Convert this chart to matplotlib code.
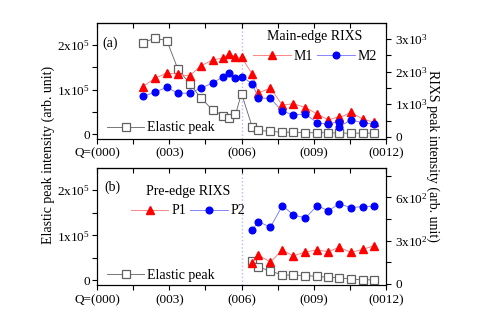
import numpy as np
import matplotlib
matplotlib.use("Agg")
import matplotlib.pyplot as plt
from matplotlib.ticker import FixedLocator, FuncFormatter
from matplotlib.lines import Line2D
from matplotlib.transforms import ScaledTranslation

plt.rcParams["font.family"] = ["Liberation Serif", "DejaVu Serif"]
plt.rcParams["mathtext.fontset"] = "custom"
plt.rcParams["mathtext.rm"] = "Liberation Serif"
plt.rcParams["mathtext.it"] = "Liberation Serif:italic"
plt.rcParams["font.size"] = 9.5

# Q positions (index along (00L)); duplicate point at ~(0010)
x_top = [1.9, 2.4, 2.9, 3.35, 3.85, 4.3, 4.8, 5.25, 5.5, 5.75, 6.0, 6.45,
         6.7, 7.2, 7.7, 8.15, 8.65, 9.15, 9.6, 10.05, 10.05, 10.55, 11.05, 11.5]
elastic_top = [2.05, 2.15, 2.10, 1.47, 1.13, 0.82, 0.54, 0.41, 0.35, 0.44, 0.91, 0.15,
               0.08, 0.06, 0.04, 0.04, 0.03, 0.03, 0.03, 0.02, 0.02, 0.02, 0.02, 0.02]  # x1e5
m1 = [1.54, 1.79, 1.96, 1.92, 1.87, 2.17, 2.36, 2.42, 2.55, 2.44, 2.44, 1.92,
      1.35, 1.49, 0.97, 1.02, 0.90, 0.70, 0.52, 0.62, 0.58, 0.75, 0.54, 0.45]  # x1e3
m2 = [1.24, 1.37, 1.52, 1.34, 1.34, 1.49, 1.65, 1.85, 1.97, 1.79, 1.85, 1.63,
      1.19, 1.18, 0.78, 0.68, 0.70, 0.43, 0.39, 0.47, 0.31, 0.52, 0.43, 0.39]  # x1e3

x_bot = [6.45, 6.7, 7.2, 7.7, 8.15, 8.65, 9.15, 9.6, 10.05, 10.55, 11.05, 11.5]
elastic_bot = [0.44, 0.30, 0.21, 0.12, 0.12, 0.11, 0.09, 0.07, 0.06, 0.03, 0.02, 0.01]  # x1e5
p1 = [143, 201, 152, 235, 194, 222, 235, 224, 254, 219, 240, 265]
p2 = [374, 432, 393, 543, 478, 457, 543, 506, 554, 529, 536, 538]

q_ticks = [0, 3, 6, 9, 12]
q_labels = ["Q=(000)", "(003)", "(006)", "(009)", "(0012)"]

RED, RED_L = "#ff0000", "#ff7070"
BLUE, BLUE_L = "#0000ff", "#7070ff"
GRAY = "#606060"
VLINE = "#b8b8f0"


def sci(exp):
    def f(v, pos):
        m = v / 10 ** exp
        if abs(m) < 1e-9:
            return "0"
        return "%dx10$^{%d}$" % (round(m), exp)
    return FuncFormatter(f)


W, H = 482, 336
fig = plt.figure(figsize=(W / 100, H / 100), dpi=100)
L, R = 97, 386
ax_a = fig.add_axes([L / W, 1 - 138.5 / H, (R - L) / W, 115.8 / H])
ax_b = fig.add_axes([L / W, 1 - 285 / H, (R - L) / W, 117.3 / H])

el_kw = dict(color=GRAY, lw=0.6, marker="s", ms=5.5, mfc="white", mec=GRAY, mew=0.9)
m1_kw = dict(color=RED_L, lw=0.6, marker="^", ms=5.2, mfc=RED, mec=RED)
m2_kw = dict(color=BLUE_L, lw=0.6, marker="o", ms=4.8, mfc=BLUE, mec=BLUE)


def style(ax, ax2, ylim, ylim2, ymaj, ymin, y2maj, y2min, e1, e2):
    ax.set_xlim(0, 12)
    ax.set_ylim(*ylim)
    ax2.set_ylim(*ylim2)
    ax.axvline(6, color=VLINE, ls=":", lw=1.0, zorder=0)
    ax.xaxis.set_major_locator(FixedLocator(q_ticks))
    ax.xaxis.set_minor_locator(FixedLocator([1.5, 4.5, 7.5, 10.5]))
    ax.set_xticklabels(q_labels)
    lab = ax.get_xticklabels()[0]
    lab.set_transform(lab.get_transform() + ScaledTranslation(-0.095, 0, fig.dpi_scale_trans))
    ax.yaxis.set_major_locator(FixedLocator(ymaj))
    ax.yaxis.set_minor_locator(FixedLocator(ymin))
    ax.yaxis.set_major_formatter(sci(e1))
    ax2.yaxis.set_major_locator(FixedLocator(y2maj))
    ax2.yaxis.set_minor_locator(FixedLocator(y2min))
    ax2.yaxis.set_major_formatter(sci(e2))
    ax.tick_params(axis="x", which="both", direction="out", length=3.5, width=0.8, pad=3,
                   labelsize=9.5)
    ax.tick_params(axis="y", which="both", direction="out", length=3.5, width=0.8, pad=1.5,
                   labelsize=9.5)
    ax2.tick_params(axis="y", which="both", direction="out", length=3.5, width=0.8, pad=3,
                    labelsize=9.5)
    sec = ax.secondary_xaxis("top")
    sec.set_xticks(q_ticks)
    sec.set_xticks([1.5, 4.5, 7.5, 10.5], minor=True)
    sec.tick_params(axis="x", which="both", direction="in", length=3.5, width=0.8,
                    labeltop=False)
    for a in (ax, ax2, sec):
        for s in a.spines.values():
            s.set_linewidth(0.8)


# panel (a)
ax2_a = ax_a.twinx()
ax_a.plot(x_top, np.array(elastic_top) * 1e5, **el_kw)
ax2_a.plot(x_top, np.array(m1) * 1e3, **m1_kw)
ax2_a.plot(x_top, np.array(m2) * 1e3, **m2_kw)
style(ax_a, ax2_a, (-0.1e5, 2.5e5), (-0.05e3, 3.5e3),
      [0, 1e5, 2e5], [0.5e5, 1.5e5], [0, 1e3, 2e3, 3e3], [0.5e3, 1.5e3, 2.5e3], 5, 3)

# panel (b)
ax2_b = ax_b.twinx()
ax_b.plot(x_bot, np.array(elastic_bot) * 1e5, **el_kw)
ax2_b.plot(x_bot, p1, **m1_kw)
ax2_b.plot(x_bot, p2, **m2_kw)
style(ax_b, ax2_b, (-0.1e5, 2.5e5), (-7, 805),
      [0, 1e5, 2e5], [0.5e5, 1.5e5], [0, 300, 600], [150, 450, 750], 5, 2)

fs = 10
leg_kw = dict(frameon=False, fontsize=fs, borderpad=0, handlelength=2.7,
              handletextpad=0.2, columnspacing=0.3, bbox_transform=fig.transFigure)


def handle(kw):
    return Line2D([], [], **kw)


lg = ax2_a.legend([handle(m1_kw), handle(m2_kw)], ["M1", "M2"], ncol=2,
                  title="Main-edge RIXS", title_fontsize=fs, loc="center",
                  bbox_to_anchor=(315 / W, 1 - 46.5 / H), **leg_kw)
ax2_a.legend([handle(el_kw)], ["Elastic peak"], loc="center left",
             bbox_to_anchor=(100 / W, 1 - 128 / H), **leg_kw)
ax2_a.add_artist(lg)

lg = ax2_b.legend([handle(m1_kw), handle(m2_kw)], ["P1", "P2"], ncol=2,
                  title="Pre-edge RIXS", title_fontsize=fs, loc="center",
                  bbox_to_anchor=(188 / W, 1 - 201 / H), **leg_kw)
ax2_b.legend([handle(el_kw)], ["Elastic peak"], loc="center left",
             bbox_to_anchor=(100 / W, 1 - 275 / H), **leg_kw)
ax2_b.add_artist(lg)

fig.text(110 / W, 1 - 43 / H, "(a)", fontsize=fs, ha="center", va="center")
fig.text(112 / W, 1 - 187 / H, "(b)", fontsize=fs, ha="center", va="center")

fig.text(48 / W, 1 - 155 / H, "Elastic peak intensity (arb. unit)", fontsize=fs,
         rotation=90, ha="center", va="center")
fig.text(433 / W, 1 - 156 / H, "RIXS peak intensity (arb. unit)", fontsize=fs,
         rotation=270, ha="center", va="center")

fig.savefig("out.png", dpi=100)
